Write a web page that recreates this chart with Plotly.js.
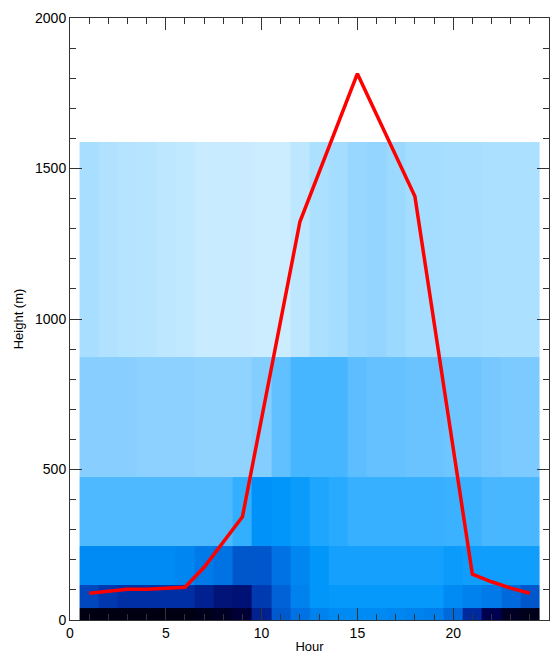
<!DOCTYPE html>
<html>
<head>
<meta charset="utf-8">
<script src="https://cdn.plot.ly/plotly-3.0.1.min.js"></script>
<style>html,body{margin:0;padding:0;background:#fff;}#chart{width:555px;height:654px;}</style>
</head>
<body>
<div id="chart"></div>
<script>
// Hours (cell centres)
const hours = [1,2,3,4,5,6,7,8,9,10,11,12,13,14,15,16,17,18,19,20,21,22,23,24];
// Height level edges (m)
const levelEdges = [0, 40, 116, 246, 474, 873, 1588];
// Normalised values per level (bottom to top), one per hour
const level1 = [0.02,0.02,0.02,0.02,0.02,0.02,0.03,0.04,0.06,0.20,0.35,0.41,0.45,0.47,0.47,0.47,0.46,0.45,0.44,0.39,0.23,0.09,0.04,0.03];
const level2 = [0.30,0.26,0.24,0.24,0.24,0.24,0.20,0.16,0.15,0.27,0.37,0.45,0.50,0.51,0.51,0.51,0.51,0.51,0.51,0.47,0.45,0.43,0.39,0.34];
const level3 = [0.47,0.47,0.47,0.47,0.47,0.46,0.43,0.41,0.34,0.34,0.41,0.46,0.50,0.54,0.54,0.54,0.54,0.54,0.54,0.52,0.53,0.53,0.53,0.53];
const level4 = [0.66,0.66,0.66,0.66,0.66,0.66,0.66,0.66,0.60,0.49,0.50,0.52,0.56,0.58,0.61,0.61,0.61,0.61,0.61,0.62,0.62,0.65,0.65,0.65];
const level5 = [0.79,0.79,0.79,0.80,0.80,0.80,0.81,0.81,0.81,0.78,0.70,0.64,0.64,0.64,0.69,0.71,0.71,0.72,0.72,0.73,0.73,0.75,0.76,0.76];
const level6 = [0.87,0.89,0.90,0.91,0.93,0.94,0.97,0.97,0.97,0.98,0.98,0.93,0.88,0.86,0.83,0.82,0.84,0.86,0.86,0.87,0.87,0.88,0.88,0.88];
// Boundary layer height line
const lineHours = [1,3,4,6,7,9,12,15,18,21,22,23,24];
const lineHeights = [89,102,102,109,175,343,1323,1815,1408,152,127,106,89];

const colorscale = [
  [0.0,'rgb(0,0,0)'],
  [0.1,'rgb(0,0,90)'],
  [0.25,'rgb(0,50,170)'],
  [0.4,'rgb(0,110,225)'],
  [0.5,'rgb(0,150,250)'],
  [0.6,'rgb(50,175,255)'],
  [0.75,'rgb(120,200,255)'],
  [0.9,'rgb(180,228,255)'],
  [1.0,'rgb(210,238,255)']
];

const heat = {
  type:'heatmap', x:hours, y:levelEdges,
  z:[level1,level2,level3,level4,level5,level6],
  colorscale:colorscale, zmin:0, zmax:1, showscale:false, zsmooth:false, hoverinfo:'skip'
};
const line = {
  type:'scatter', mode:'lines', x:lineHours, y:lineHeights,
  line:{color:'#ff0000', width:3.5}, hoverinfo:'skip'
};

const axisCommon = {
  showgrid:false, zeroline:false, showline:true, linecolor:'#333', linewidth:1,
  mirror:'ticks', ticks:'inside', tickcolor:'#333', tickwidth:1, ticklen:12,
  tickfont:{family:'Liberation Sans, Arial, sans-serif', size:14, color:'#000'}
};

const layout = {
  width:555, height:654,
  margin:{l:70, r:6, t:18, b:34},
  paper_bgcolor:'#fff', plot_bgcolor:'#fff',
  showlegend:false,
  xaxis:Object.assign({}, axisCommon, {
    range:[0,25], dtick:5, tick0:0,
    minor:{dtick:1, ticks:'inside', ticklen:6, tickcolor:'#333'},
    title:{text:'Hour', standoff:2, font:{family:'Liberation Sans, Arial, sans-serif', size:13, color:'#000'}}
  }),
  yaxis:Object.assign({}, axisCommon, {
    range:[0,2000], dtick:500, tick0:0,
    minor:{dtick:100, ticks:'inside', ticklen:6, tickcolor:'#333'},
    title:{text:'Height (m)', standoff:8, font:{family:'Liberation Sans, Arial, sans-serif', size:13, color:'#000'}}
  })
};

Plotly.newPlot('chart', [heat, line], layout, {displayModeBar:false, staticPlot:true});
</script>
</body>
</html>
